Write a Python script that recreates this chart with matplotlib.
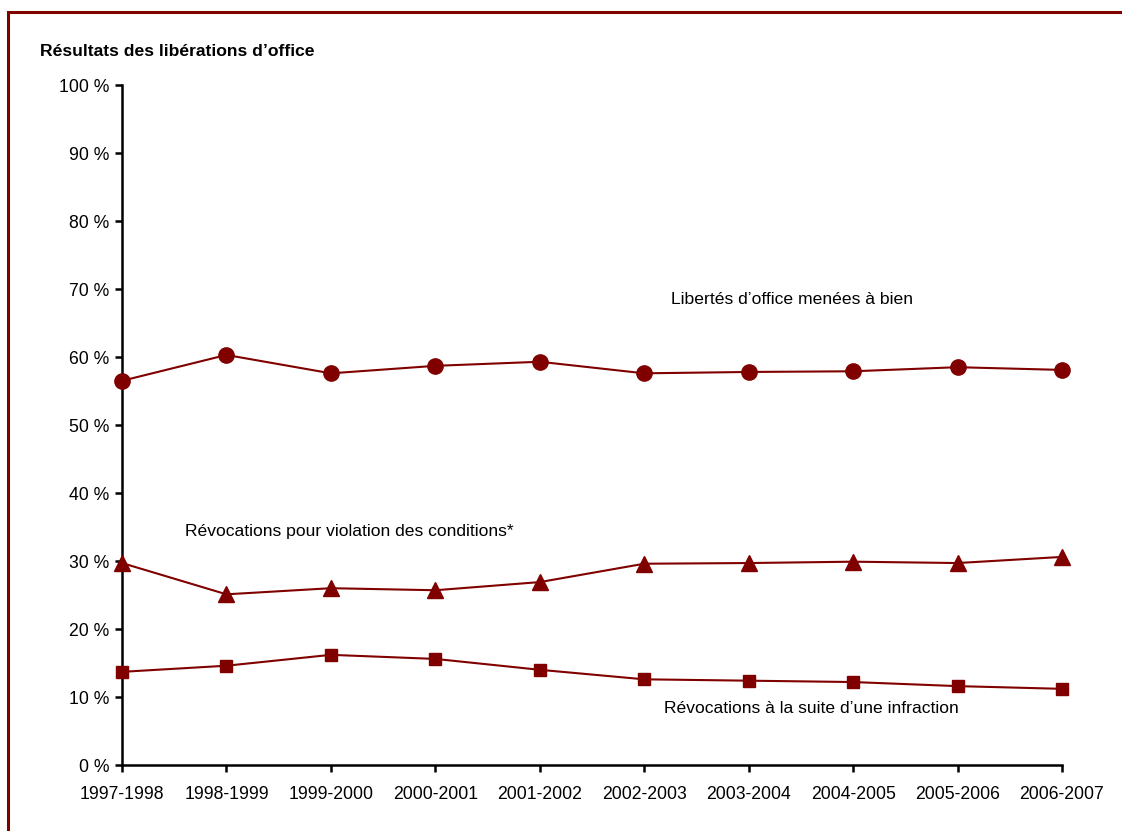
import matplotlib
matplotlib.use('Agg')
import matplotlib.pyplot as plt
from matplotlib.patches import Rectangle

plt.rcParams['font.family'] = ['Liberation Sans Narrow', 'Liberation Sans', 'DejaVu Sans']

# donnees
annees = ['1997-1998', '1998-1999', '1999-2000', '2000-2001', '2001-2002',
          '2002-2003', '2003-2004', '2004-2005', '2005-2006', '2006-2007']
menees_a_bien = [56.5, 60.3, 57.6, 58.7, 59.3, 57.6, 57.8, 57.9, 58.5, 58.1]
violation = [29.7, 25.1, 26.0, 25.7, 26.9, 29.6, 29.7, 29.9, 29.7, 30.6]
infraction = [13.7, 14.6, 16.2, 15.6, 14.0, 12.6, 12.4, 12.2, 11.6, 11.2]
yticks = [0, 10, 20, 30, 40, 50, 60, 70, 80, 90, 100]

rouge = '#800000'

fig = plt.figure(figsize=(11.22, 8.31), dpi=100)
ax = fig.add_axes([122/1122, 1 - 765/831, 940/1122, 680/831])

x = range(len(annees))
ax.plot(x, menees_a_bien, color=rouge, lw=1.5, marker='o', ms=11, clip_on=False, zorder=3)
ax.plot(x, violation, color=rouge, lw=1.5, marker='^', ms=11, clip_on=False, zorder=3)
ax.plot(x, infraction, color=rouge, lw=1.5, marker='s', ms=8.5, clip_on=False, zorder=3)

ax.set_xlim(0, len(annees) - 1)
ax.set_ylim(0, 100)
ax.set_xticks(list(x))
ax.set_xticklabels(annees)
ax.set_yticks(yticks)
ax.set_yticklabels([f'{v} %' for v in yticks])
ax.tick_params(axis='both', direction='out', length=5, width=1.8, labelsize=12.7)
ax.tick_params(axis='x', pad=10)
ax.tick_params(axis='y', pad=4)
ax.spines['top'].set_visible(False)
ax.spines['right'].set_visible(False)
ax.spines['left'].set_linewidth(1.8)
ax.spines['bottom'].set_linewidth(1.8)

ax.text(6.415, 68.4, 'Libertés d\u2019office menées à bien', fontsize=12.6, ha='center', va='center')
ax.text(0.6, 34.3, 'Révocations pour violation des conditions*', fontsize=12.6, ha='left', va='center')
ax.text(5.19, 8.3, 'Révocations à la suite d\u2019une infraction', fontsize=12.6, ha='left', va='center')

fig.text(40/1122, 1 - 52/831, 'Résultats des libérations d\u2019office', fontsize=12.6,
         fontweight='bold', ha='left', va='center')

# cadre
fig.patches.append(Rectangle((8/1122, -0.1), 1.2, 1 - 12/831 + 0.1, transform=fig.transFigure,
                             fill=False, edgecolor=rouge, lw=2.2))

fig.savefig('out.png', dpi=100)
